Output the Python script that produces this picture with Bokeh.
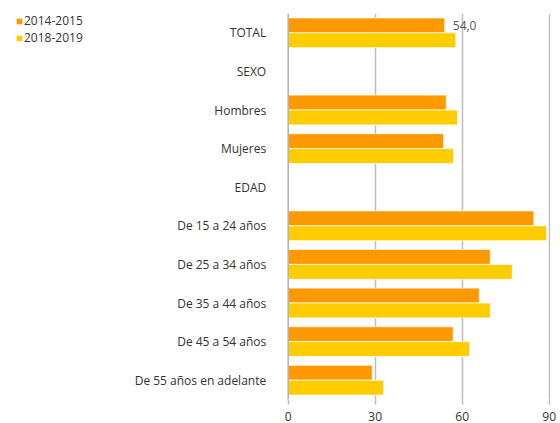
import math
from bokeh.plotting import figure
from bokeh.models import (ColumnDataSource, FactorRange, Range1d, FixedTicker,
                          Legend, LegendItem, Span)
from bokeh.transform import dodge
from bokeh.core.properties import value
from bokeh.embed import file_html
from bokeh.resources import INLINE

nan = float("nan")
categories = ["TOTAL", "SEXO", "Hombres", "Mujeres", "EDAD",
              "De 15 a 24 años", "De 25 a 34 años", "De 35 a 44 años",
              "De 45 a 54 años", "De 55 años en adelante"]
series_names = ["2014-2015", "2018-2019"]
v2014 = [54.0, nan, 54.5, 53.6, nan, 84.7, 69.7, 65.9, 56.9, 29.0]
v2018 = [57.8, nan, 58.4, 57.0, nan, 89.1, 77.3, 69.7, 62.6, 32.9]
x_ticks = [0, 30, 60, 90]

FONT = "Open Sans"
ORANGE = "#FF9900"
YELLOW = "#FFCC00"

src = ColumnDataSource(dict(cat=categories, a=v2014, b=v2018))

# frame spans the whole width so the category labels and the legend
# live inside it (x < 0 is the label area)
p = figure(width=556, height=423, output_backend="svg", toolbar_location=None,
           y_range=FactorRange(factors=list(reversed(categories)), range_padding=0),
           x_range=Range1d(-99.2, 90.45),
           min_border_left=0, min_border_right=6, min_border_top=13,
           min_border_bottom=10)
p.outline_line_color = None
p.background_fill_color = "white"

# grid
p.ygrid.grid_line_color = None
p.xgrid.ticker = FixedTicker(ticks=x_ticks[1:])
p.xgrid.grid_line_color = "#bdbdbd"
p.xgrid.grid_line_width = 1.5

h = 0.385
r1 = p.hbar(y=dodge("cat", 0.193, range=p.y_range), right="a", left=0, height=h,
            source=src, fill_color=ORANGE, line_color="white", line_alpha=0.7,
            line_width=1)
r2 = p.hbar(y=dodge("cat", -0.193, range=p.y_range), right="b", left=0, height=h,
            source=src, fill_color=YELLOW, line_color="white", line_alpha=0.7,
            line_width=1)

# vertical axis line at 0
p.add_layout(Span(location=0, dimension="height", line_color="#b0b0b0",
                  line_width=1.5))

# category labels
cat_src = ColumnDataSource(dict(cat=categories, x=[0] * len(categories)))
p.text(x="x", y="cat", text="cat", source=cat_src, x_offset=-22,
       text_align="right", text_baseline="middle", text_font=value(FONT),
       text_font_size="12px", text_color="#333333")

# data label for TOTAL 2014-2015
lab_src = ColumnDataSource(dict(cat=[categories[0]], x=[v2014[0]],
                                t=[f"{v2014[0]:.1f}".replace(".", ",")]))
p.text(x="x", y=dodge("cat", 0.193, range=p.y_range), text="t", source=lab_src,
       x_offset=8, text_baseline="middle", text_align="left",
       text_font=value(FONT), text_font_size="12px", text_color="#555555")

# x axis
p.xaxis.ticker = FixedTicker(ticks=x_ticks)
p.xaxis.axis_line_color = None
p.xaxis.major_tick_line_color = "#bdbdbd"
p.xaxis.major_tick_line_width = 1.5
p.xaxis.major_tick_in = 0
p.xaxis.major_tick_out = 5
p.xaxis.minor_tick_line_color = None
p.xaxis.major_label_text_font = FONT
p.xaxis.major_label_text_font_size = "12px"
p.xaxis.major_label_text_color = "#333333"
p.xaxis.major_label_standoff = 7

p.yaxis.visible = False

legend = Legend(items=[LegendItem(label=series_names[0], renderers=[r1]),
                       LegendItem(label=series_names[1], renderers=[r2])],
                location=(15, 353), orientation="vertical",
                label_text_font=FONT, label_text_font_size="12px",
                label_text_color="#333333", glyph_width=8, glyph_height=8,
                label_standoff=1, label_height=14, spacing=0, padding=0,
                margin=0, background_fill_alpha=0, border_line_color=None)
p.add_layout(legend, "center")

open("out.html", "w").write(file_html(p, INLINE))
